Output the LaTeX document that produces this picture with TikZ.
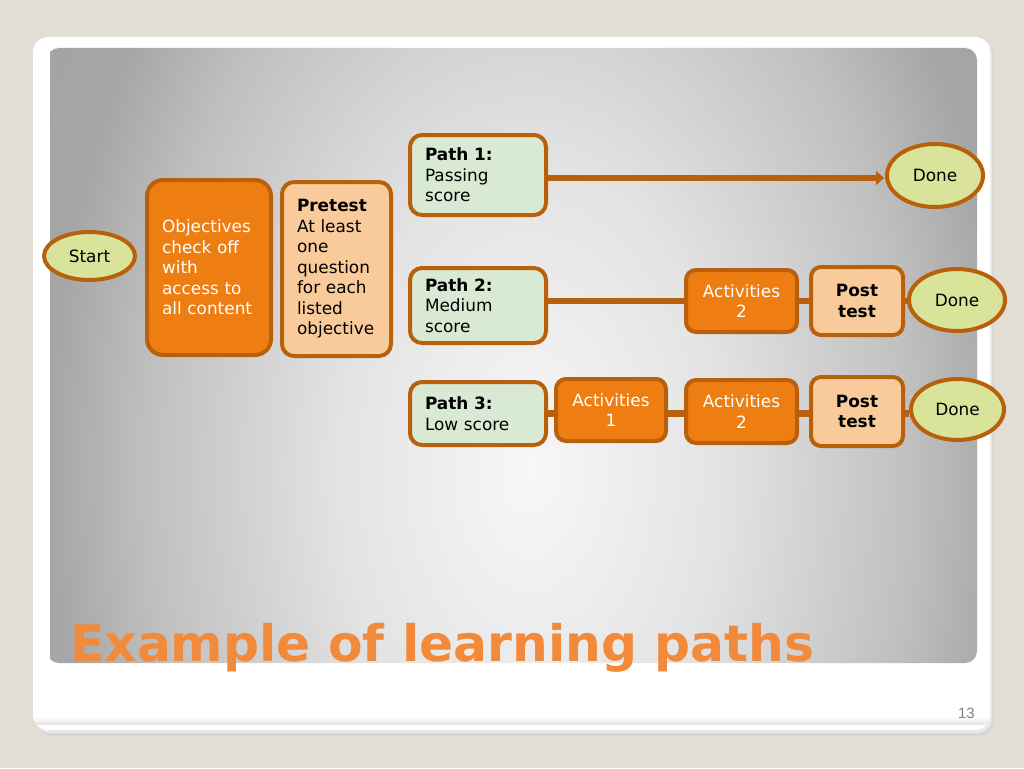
\documentclass[tikz,border=0pt]{standalone}
\usepackage{fontspec}
\setmainfont{DejaVu Sans}
\newfontfamily\numfont{Liberation Sans}
\usetikzlibrary{shapes.geometric,arrows.meta,calc}
\definecolor{bgbeige}{HTML}{E2DED3}
\definecolor{brd}{HTML}{B8600C}
\definecolor{dorange}{HTML}{EE7D12}
\definecolor{peach}{HTML}{FACB9A}
\definecolor{pgreen}{HTML}{D9EAD4}
\definecolor{ygreen}{HTML}{D9E49A}
\definecolor{titleor}{HTML}{F28A3C}
\pgfdeclareradialshading{panelshade}{\pgfpoint{0bp}{0bp}}{color(0bp)=(white!97!black); color(10bp)=(white!89!black); color(20bp)=(white!75!black); color(25bp)=(white!65!black); color(50bp)=(white!60!black)}
\pgfdeclareverticalshading{cardband}{100bp}{color(0bp)=(white!90!black); color(10bp)=(white!96!black); color(20bp)=(white)}
\tikzset{
  bodyfont/.style={font=\fontsize{16.9}{20.5}\selectfont},
  box/.style={draw=brd, line width=4pt, rounded corners=12pt, bodyfont, inner xsep=15pt, inner ysep=0pt, align=left},
  darkbox/.style={box, fill=dorange, text=white},
  peachbox/.style={box, fill=peach, text=black},
  pathbox/.style={box, fill=pgreen, text=black, text width=106pt},
  actbox/.style={draw=brd, line width=4pt, rounded corners=10pt, fill=dorange, text=white, bodyfont, align=center, inner sep=0pt},
  postbox/.style={draw=brd, line width=4pt, rounded corners=10pt, fill=peach, text=black, align=center, inner sep=0pt, font=\fontsize{16.9}{20.5}\selectfont\bfseries},
  oval/.style={ellipse, draw=brd, line width=4pt, fill=ygreen, bodyfont, inner sep=0pt},
  conn/.style={draw=brd, line width=6.5pt},
  titlefont/.style={font=\fontsize{50.3}{54}\selectfont\bfseries}
}
\begin{document}
\begin{tikzpicture}[x=1pt,y=-1pt]
\useasboundingbox (0,0) rectangle (1024,768);
\fill[bgbeige] (0,0) rectangle (1024,768);
% card shadow and card
\fill[black!16, rounded corners=15pt] (37,42) rectangle (994,736);
\fill[black!9, rounded corners=15pt] (35,39) rectangle (992,733);
\fill[white, rounded corners=15pt] (33,37) rectangle (990,730);
\begin{scope}
\clip[rounded corners=15pt] (33,37) rectangle (990,730);
\shade[shading=cardband] (33,710) rectangle (990,730);
\end{scope}
% gray panel
\begin{scope}
\clip[rounded corners=12pt] (47,48) rectangle (977,663);
\shade[shading=panelshade] (50,-297) rectangle (1010,1237);
\end{scope}
% nodes
\node[oval, minimum width=91pt, minimum height=48pt] (start) at (89.5,256) {Start};
\node[darkbox, rounded corners=16pt, minimum width=124pt, minimum height=175pt, text width=94pt] (obj) at (209,267.5) {Objectives\\check off\\with\\access to\\all content};
\node[peachbox, minimum width=109pt, minimum height=174pt, text width=79pt] (pre) at (336.5,269) {\textbf{Pretest}\\At least\\one\\question\\for each\\listed\\objective};
\node[pathbox, minimum width=136pt, minimum height=80pt] (p1) at (478,175) {\textbf{Path 1:}\\Passing\\score};
\node[pathbox, minimum width=136pt, minimum height=75pt] (p2) at (478,305.5) {\textbf{Path 2:}\\Medium\\score};
\node[pathbox, minimum width=136pt, minimum height=63pt] (p3) at (478,413.5) {\textbf{Path 3:}\\Low score};
\node[oval, minimum width=96pt, minimum height=63pt] (d1) at (935,175.5) {Done};
\node[actbox, minimum width=111pt, minimum height=62pt] (a2) at (741.5,301) {Activities\\2};
\node[postbox, minimum width=92pt, minimum height=68pt] (pt2) at (857,301) {Post\\test};
\node[oval, minimum width=96pt, minimum height=62pt] (d2) at (957,300) {Done};
\node[actbox, minimum width=110pt, minimum height=62pt] (a1) at (611,410) {Activities\\1};
\node[actbox, minimum width=111pt, minimum height=63pt] (a3) at (741.5,411.5) {Activities\\2};
\node[postbox, minimum width=92pt, minimum height=69pt] (pt3) at (857,411.5) {Post\\test};
\node[oval, minimum width=93pt, minimum height=61pt] (d3) at (957.5,409.5) {Done};
% connectors
\draw[conn, -{Triangle[length=8pt,width=14pt]}, shorten >=1pt] (p1.east |- 0,178) -- (d1.west |- 0,178);
\draw[conn] (a2.west -| p2.east) -- (a2.west);
\draw[conn] (pt2.west -| a2.east) -- (pt2.west);
\draw[conn] (pt2.east) -- (pt2.east -| d2.west);
\draw[conn] (p3.east) -- (p3.east -| a1.west);
\draw[conn] (p3.east -| a1.east) -- (p3.east -| a3.west);
\draw[conn] (p3.east -| a3.east) -- (p3.east -| pt3.west);
\draw[conn] (p3.east -| pt3.east) -- (p3.east -| d3.west);
% title
\node[anchor=base west, inner sep=0pt, text=titleor, titlefont] (title) at (70,661) {Example of learning paths};
\node[anchor=base east, inner sep=0pt, text=black!50, font=\numfont\fontsize{15}{17}\selectfont] (num) at (975,718) {13};
\end{tikzpicture}
\end{document}
